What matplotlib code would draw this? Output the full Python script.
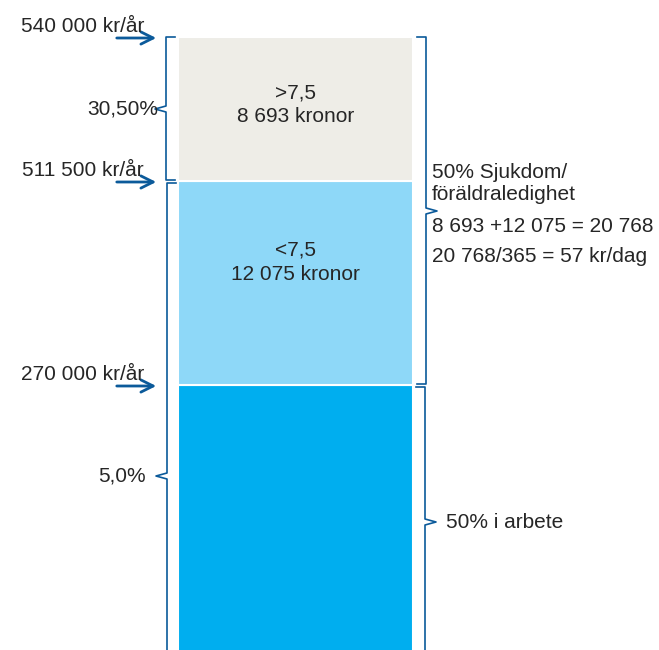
import matplotlib.pyplot as plt
from matplotlib.lines import Line2D

plt.rcParams['font.family'] = ['Liberation Sans', 'DejaVu Sans']

# segments from bottom to top (heights in chart units)
seg_names = ["arbete", "<7,5", ">7,5"]
seg_heights = [295, 204, 144]
seg_base = -30
seg_colors = ["#00AEEF", "#8ED8F8", "#EEEDE7"]
seg_texts = [[], ["<7,5", "12 075 kronor"], [">7,5", "8 693 kronor"]]

income_labels = ["270 000 kr/år", "511 500 kr/år", "540 000 kr/år"]
left_pcts = ["5,0%", "30,50%"]
work_text = "50% i arbete"
leave_lines = ["50% Sjukdom/", "föräldraledighet", "8 693 +12 075 = 20 768",
               "20 768/365 = 57 kr/dag"]

text_col = "#262626"
line_col = "#0B5A9A"
fs = 15

fig = plt.figure(figsize=(6.59, 6.50), dpi=100)
ax = fig.add_axes([0, 0, 1, 1])
ax.set_xlim(0, 659)
ax.set_ylim(0, 650)
ax.axis("off")

bar_x, bar_w = 295.5, 235
text_offsets = [0, 33, 16]  # first text line above segment middle
bottoms = []
b = seg_base
for h, c, t, off in zip(seg_heights, seg_colors, seg_texts, text_offsets):
    ax.bar(bar_x, h, width=bar_w, bottom=b, color=c, edgecolor="white", linewidth=1.5)
    bottoms.append(b)
    mid = b + h / 2
    for i, line in enumerate(t):
        ax.text(bar_x, mid + off - i * 24, line, ha="center", va="center",
                fontsize=fs, color=text_col)
    b += h
tops = [bb + h for bb, h in zip(bottoms, seg_heights)]


def brace(x, y0, y1, tip_y, side, tick=9, tip=11):
    # side=-1: tip points left, ticks to the right
    tx = x - side * tick
    px = x + side * tip
    xs = [tx, x, x, px, x, x, tx]
    ys = [y0, y0, tip_y + 3, tip_y, tip_y - 3, y1, y1]
    ax.add_line(Line2D(xs, ys, color=line_col, lw=1.2))


# left braces
brace(166, tops[2], tops[1] + 1, (tops[2] + tops[1]) / 2, -1)
brace(167, tops[1] - 2, -119, 174, -1)
# right braces
brace(426, tops[2], bottoms[1] + 1, (tops[2] + bottoms[1]) / 2, 1)
brace(425, tops[0] - 2, -7, (tops[0] - 2 - 7) / 2, 1)

# arrows with income labels
for y, lab in zip([tops[0] - 1, tops[1] - 1, tops[2] - 1], income_labels):
    ax.annotate("", xy=(159, y), xytext=(114, y),
                arrowprops=dict(arrowstyle="->", color=line_col, lw=2, mutation_scale=22))
    ax.text(144, y + 11, lab, ha="right", va="center", fontsize=fs, color=text_col)

ax.text(146, 174, left_pcts[0], ha="right", va="center", fontsize=fs, color=text_col)
ax.text(158, (tops[2] + tops[1]) / 2, left_pcts[1], ha="right", va="center",
        fontsize=fs, color=text_col)

ax.text(446, (tops[0] - 9) / 2, work_text, ha="left", va="center",
        fontsize=fs, color=text_col)
for y, line in zip([478, 456, 424, 394], leave_lines):
    ax.text(432, y, line, ha="left", va="center", fontsize=fs, color=text_col)

fig.savefig("out.png", dpi=100)
